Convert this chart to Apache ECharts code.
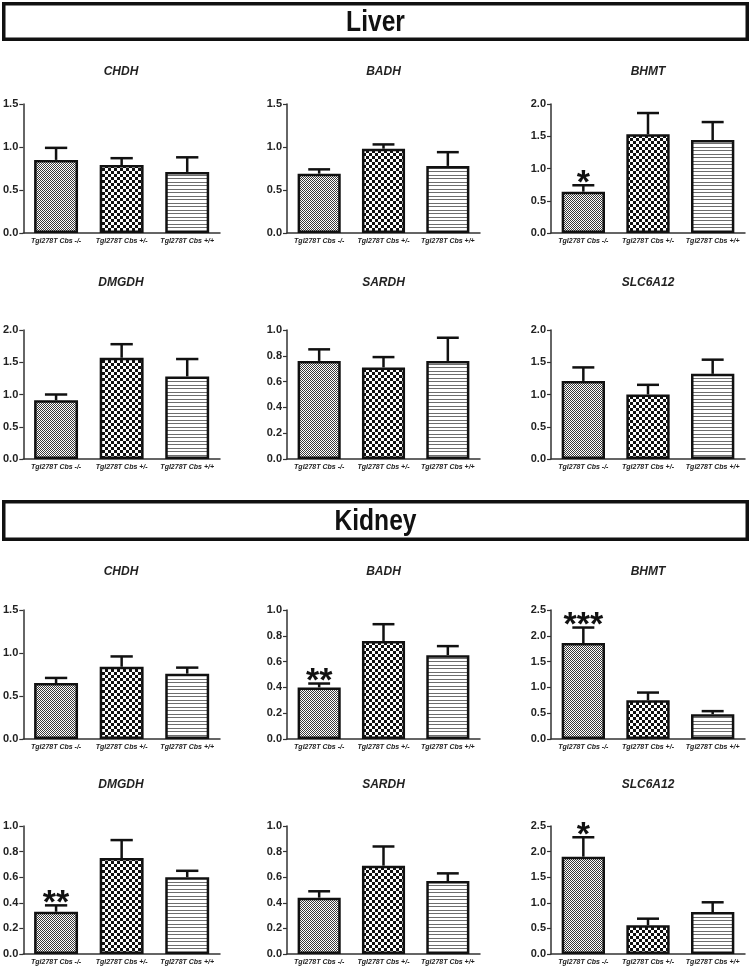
<!DOCTYPE html>
<html>
<head>
<meta charset="utf-8">
<script src="https://cdn.jsdelivr.net/npm/echarts@6/dist/echarts.min.js"></script>
<style>
  html, body { margin: 0; padding: 0; background: #fff; }
  #chart { width: 751px; height: 967px; }
</style>
</head>
<body>
<div id="chart"></div>
<script>
// ---- data ----
var categories = ["Tgl278T Cbs -/-", "Tgl278T Cbs +/-", "Tgl278T Cbs +/+"];
var genes = ["CHDH", "BADH", "BHMT", "DMGDH", "SARDH", "SLC6A12"];
var organs = ["Liver", "Kidney"];

var liverMean = [
  [0.85, 0.79, 0.71],
  [0.69, 0.98, 0.78],
  [0.64, 1.53, 1.44],
  [0.91, 1.57, 1.28],
  [0.76, 0.71, 0.76],
  [1.21, 1.00, 1.32]
];
var liverSem = [
  [0.14, 0.08, 0.17],
  [0.05, 0.05, 0.16],
  [0.10, 0.33, 0.28],
  [0.09, 0.21, 0.27],
  [0.09, 0.08, 0.18],
  [0.21, 0.15, 0.22]
];
var liverSig = [["", "", ""], ["", "", ""], ["*", "", ""], ["", "", ""], ["", "", ""], ["", "", ""]];
var liverYMax = [1.5, 1.5, 2.0, 2.0, 1.0, 2.0];
var liverYStep = [0.5, 0.5, 0.5, 0.5, 0.2, 0.5];

var kidneyMean = [
  [0.65, 0.84, 0.76],
  [0.40, 0.76, 0.65],
  [1.86, 0.75, 0.48],
  [0.33, 0.75, 0.60],
  [0.44, 0.69, 0.57],
  [1.90, 0.56, 0.82]
];
var kidneySem = [
  [0.06, 0.12, 0.07],
  [0.03, 0.13, 0.07],
  [0.30, 0.15, 0.06],
  [0.05, 0.14, 0.05],
  [0.05, 0.15, 0.06],
  [0.38, 0.13, 0.19]
];
var kidneySig = [["", "", ""], ["**", "", ""], ["***", "", ""], ["**", "", ""], ["", "", ""], ["*", "", ""]];
var kidneyYMax = [1.5, 1.0, 2.5, 1.0, 1.0, 2.5];
var kidneyYStep = [0.5, 0.2, 0.5, 0.2, 0.2, 0.5];

// ---- layout ----
var colLeft = [22, 287, 551];
var colWidth = [198, 193, 194];
var rowTop = [104, 330, 610, 826];
var rowHeight = [129, 129, 129, 128];
var titleY = [72, 283, 572, 785];
var headerBox = [[2, 41], [500, 541]]; // outer top / bottom

var FONT = '"Liberation Sans", Arial, sans-serif';
var INK = "#111";

// fill patterns drawn on small canvases
function makePattern(w, h, draw) {
  var c = document.createElement("canvas");
  c.width = w;
  c.height = h;
  var ctx = c.getContext("2d");
  ctx.fillStyle = "#fff";
  ctx.fillRect(0, 0, w, h);
  draw(ctx);
  return { image: c, repeat: "repeat" };
}
var patterns = [
  // fine checker (looks grey)
  makePattern(2, 2, function (ctx) {
    ctx.fillStyle = "#3a3a3a";
    ctx.fillRect(0, 0, 1, 1);
    ctx.fillRect(1, 1, 1, 1);
  }),
  // coarse checkerboard
  makePattern(6, 6, function (ctx) {
    ctx.fillStyle = "#111";
    ctx.fillRect(0, 0, 3, 3);
    ctx.fillRect(3, 3, 3, 3);
  }),
  // horizontal stripes
  makePattern(4, 7, function (ctx) {
    ctx.fillStyle = "#6e6e6e";
    ctx.fillRect(0, 0, 4, 1);
    ctx.fillRect(0, 3, 4, 1);
  })
];

var grids = [], xAxes = [], yAxes = [], series = [], graphics = [];

// header boxes
organs.forEach(function (name, o) {
  var top = headerBox[o][0], bottom = headerBox[o][1];
  graphics.push({
    type: "rect",
    shape: { x: 3.75, y: top + 1.75, width: 743.5, height: bottom - top - 3.5 },
    style: { fill: "#fff", stroke: INK, lineWidth: 3.5 }
  });
  graphics.push({
    type: "text",
    x: 375.5,
    y: (top + bottom) / 2 + 1,
    scaleX: 0.82,
    style: {
      text: name,
      font: "bold 30px " + FONT,
      fill: INK,
      align: "center",
      verticalAlign: "middle"
    }
  });
});

organs.forEach(function (organ, o) {
  var means = o === 0 ? liverMean : kidneyMean;
  var sems = o === 0 ? liverSem : kidneySem;
  var sigs = o === 0 ? liverSig : kidneySig;
  var yMax = o === 0 ? liverYMax : kidneyYMax;
  var yStep = o === 0 ? liverYStep : kidneyYStep;

  genes.forEach(function (gene, g) {
    var idx = o * 6 + g;
    var row = o * 2 + Math.floor(g / 3);
    var col = g % 3;

    grids.push({
      left: colLeft[col],
      top: rowTop[row],
      width: colWidth[col],
      height: rowHeight[row]
    });

    // panel title
    graphics.push({
      type: "text",
      x: colLeft[col] + colWidth[col] / 2,
      y: titleY[row],
      style: {
        text: gene,
        font: "italic bold 12px " + FONT,
        fill: "#222",
        align: "center",
        verticalAlign: "middle"
      }
    });

    xAxes.push({
      type: "category",
      gridIndex: idx,
      data: categories,
      axisLine: { lineStyle: { color: "#333", width: 1.5 } },
      axisTick: { alignWithLabel: true, length: 3, lineStyle: { color: "#333", width: 1.2 } },
      axisLabel: {
        interval: 0,
        margin: 5,
        fontSize: 7,
        fontStyle: "italic",
        fontWeight: "bold",
        fontFamily: FONT,
        color: "#222"
      },
      splitLine: { show: false }
    });

    yAxes.push({
      type: "value",
      gridIndex: idx,
      min: 0,
      max: yMax[g],
      interval: yStep[g],
      axisLine: { show: true, lineStyle: { color: "#333", width: 1.5 } },
      axisTick: { show: true, length: 4, lineStyle: { color: "#333", width: 1.2 } },
      axisLabel: {
        margin: 5,
        fontSize: 11,
        fontWeight: "bold",
        fontFamily: FONT,
        color: "#222",
        formatter: function (v) { return v.toFixed(1); }
      },
      splitLine: { show: false }
    });

    series.push({
      type: "bar",
      xAxisIndex: idx,
      yAxisIndex: idx,
      barWidth: "67%",
      silent: true,
      itemStyle: { borderColor: INK, borderWidth: 2.5 },
      data: means[g].map(function (v, i) {
        return { value: v, itemStyle: { color: patterns[i] } };
      })
    });

    // error bars (upper whisker only) + significance stars
    var sig = sigs[g];
    series.push({
      type: "custom",
      xAxisIndex: idx,
      yAxisIndex: idx,
      silent: true,
      z: 3,
      data: means[g].map(function (v, i) {
        return [i, v, v + sems[g][i]];
      }),
      renderItem: function (params, api) {
        var base = api.coord([api.value(0), api.value(1)]);
        var top = api.coord([api.value(0), api.value(2)]);
        var half = api.size([1, 0])[0] * 0.17;
        var children = [
          {
            type: "line",
            shape: { x1: base[0], y1: base[1], x2: top[0], y2: top[1] },
            style: { stroke: INK, lineWidth: 2.5 }
          },
          {
            type: "line",
            shape: { x1: top[0] - half, y1: top[1], x2: top[0] + half, y2: top[1] },
            style: { stroke: INK, lineWidth: 2.5 }
          }
        ];
        var s = sig[params.dataIndex];
        if (s) {
          children.push({
            type: "text",
            x: top[0],
            y: top[1] - 2,
            style: {
              text: s,
              font: "bold 34px " + FONT,
              fill: INK,
              align: "center",
              verticalAlign: "middle"
            }
          });
        }
        return { type: "group", children: children };
      }
    });
  });
});

var chart = echarts.init(document.getElementById("chart"));
chart.setOption({
  animation: false,
  backgroundColor: "#fff",
  grid: grids,
  xAxis: xAxes,
  yAxis: yAxes,
  series: series,
  graphic: graphics
});
</script>
</body>
</html>
